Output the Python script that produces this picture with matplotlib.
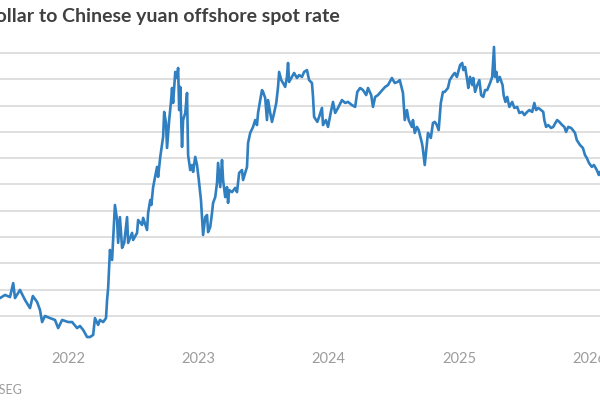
import matplotlib
matplotlib.use('Agg')
import matplotlib.pyplot as plt
import matplotlib.dates as mdates
import pandas as pd

# USD/CNH (approximate)
dates = [
    '2021-06-16', '2021-06-24', '2021-07-08', '2021-07-22', '2021-07-31', '2021-08-05',
    '2021-08-19', '2021-09-02', '2021-09-16', '2021-09-24', '2021-10-06', '2021-10-14',
    '2021-10-20', '2021-10-28', '2021-11-11', '2021-11-25', '2021-12-04', '2021-12-15',
    '2022-01-01', '2022-01-12', '2022-01-26', '2022-02-03', '2022-02-12', '2022-02-23',
    '2022-03-03', '2022-03-12', '2022-03-17', '2022-03-26', '2022-03-31', '2022-04-09',
    '2022-04-17', '2022-04-20', '2022-04-23', '2022-04-28', '2022-05-04', '2022-05-12',
    '2022-05-18', '2022-05-21', '2022-05-26', '2022-06-01', '2022-06-07', '2022-06-15',
    '2022-06-18', '2022-06-29', '2022-07-02', '2022-07-13', '2022-07-16', '2022-07-27',
    '2022-07-30', '2022-08-10', '2022-08-13', '2022-08-19', '2022-08-22', '2022-08-27',
    '2022-09-07', '2022-09-10', '2022-09-16', '2022-09-24', '2022-09-27', '2022-10-02',
    '2022-10-05', '2022-10-11', '2022-10-16', '2022-10-19', '2022-10-22', '2022-10-28',
    '2022-11-02', '2022-11-05', '2022-11-08', '2022-11-11', '2022-11-16', '2022-11-19',
    '2022-11-25', '2022-11-30', '2022-12-03', '2022-12-09', '2022-12-14', '2022-12-17',
    '2022-12-23', '2022-12-28', '2023-01-02', '2023-01-08', '2023-01-14', '2023-01-20',
    '2023-01-25', '2023-01-28', '2023-02-03', '2023-02-08', '2023-02-11', '2023-02-17',
    '2023-02-22', '2023-02-25', '2023-03-03', '2023-03-08', '2023-03-11', '2023-03-17',
    '2023-03-22', '2023-03-25', '2023-03-28', '2023-04-05', '2023-04-14', '2023-04-19',
    '2023-04-25', '2023-05-03', '2023-05-06', '2023-05-17', '2023-05-20', '2023-05-26',
    '2023-06-03', '2023-06-09', '2023-06-14', '2023-06-17', '2023-06-23', '2023-06-28',
    '2023-07-01', '2023-07-07', '2023-07-12', '2023-07-15', '2023-07-21', '2023-07-26',
    '2023-08-01', '2023-08-07', '2023-08-12', '2023-08-15', '2023-08-21', '2023-08-26',
    '2023-09-01', '2023-09-06', '2023-09-09', '2023-09-12', '2023-09-20', '2023-09-26',
    '2023-10-04', '2023-10-10', '2023-10-18', '2023-10-24', '2023-11-01', '2023-11-07',
    '2023-11-15', '2023-11-18', '2023-11-21', '2023-11-30', '2023-12-05', '2023-12-13',
    '2023-12-16', '2023-12-24', '2023-12-30', '2024-01-07', '2024-01-13', '2024-01-19',
    '2024-01-27', '2024-02-07', '2024-02-16', '2024-02-24', '2024-03-06', '2024-03-15',
    '2024-03-21', '2024-03-29', '2024-04-06', '2024-04-15', '2024-04-20', '2024-04-29',
    '2024-05-04', '2024-05-10', '2024-05-18', '2024-05-30', '2024-06-07', '2024-06-15',
    '2024-06-26', '2024-07-04', '2024-07-12', '2024-07-18', '2024-07-27', '2024-08-01',
    '2024-08-07', '2024-08-12', '2024-08-21', '2024-08-24', '2024-08-29', '2024-09-04',
    '2024-09-09', '2024-09-18', '2024-09-20', '2024-09-26', '2024-10-02', '2024-10-05',
    '2024-10-13', '2024-10-19', '2024-10-24', '2024-10-30', '2024-11-04', '2024-11-10',
    '2024-11-16', '2024-11-21', '2024-11-30', '2024-12-05', '2024-12-14', '2024-12-19',
    '2024-12-25', '2025-01-03', '2025-01-09', '2025-01-12', '2025-01-17', '2025-01-23',
    '2025-01-26', '2025-01-31', '2025-02-06', '2025-02-09', '2025-02-14', '2025-02-20',
    '2025-02-26', '2025-03-03', '2025-03-09', '2025-03-14', '2025-03-20', '2025-03-28',
    '2025-04-03', '2025-04-08', '2025-04-11', '2025-04-15', '2025-04-18', '2025-04-24',
    '2025-05-02', '2025-05-05', '2025-05-10', '2025-05-15', '2025-05-21', '2025-05-29',
    '2025-06-04', '2025-06-12', '2025-06-18', '2025-06-26', '2025-07-02', '2025-07-10',
    '2025-07-16', '2025-07-24', '2025-07-30', '2025-08-04', '2025-08-10', '2025-08-18',
    '2025-08-24', '2025-08-27', '2025-09-01', '2025-09-07', '2025-09-15', '2025-09-21',
    '2025-09-27', '2025-10-02', '2025-10-08', '2025-10-16', '2025-10-22', '2025-10-27',
    '2025-11-02', '2025-11-10', '2025-11-15', '2025-11-21', '2025-11-26', '2025-12-05',
    '2025-12-13', '2025-12-19', '2025-12-24', '2025-12-30', '2026-01-07', '2026-01-13',
    '2026-01-21', '2026-01-27', '2026-01-30', '2026-02-06',
]
rate = [
    6.470, 6.468, 6.480, 6.472, 6.525, 6.468,
    6.499, 6.461, 6.430, 6.476, 6.453, 6.423,
    6.377, 6.400, 6.392, 6.385, 6.354, 6.385,
    6.377, 6.377, 6.354, 6.362, 6.347, 6.320,
    6.320, 6.328, 6.392, 6.366, 6.385, 6.377,
    6.392, 6.461, 6.506, 6.651, 6.613, 6.822,
    6.765, 6.678, 6.776, 6.659, 6.678, 6.776,
    6.678, 6.716, 6.689, 6.716, 6.765, 6.746,
    6.773, 6.727, 6.792, 6.841, 6.822, 6.890,
    6.967, 6.929, 7.005, 7.081, 7.176, 7.134,
    7.039, 7.145, 7.214, 7.267, 7.210, 7.328,
    7.305, 7.343, 7.183, 7.271, 7.043, 7.145,
    7.172, 7.248, 7.012, 6.955, 6.974, 6.948,
    7.005, 6.974, 6.917, 6.841, 6.708, 6.776,
    6.784, 6.719, 6.738, 6.792, 6.830, 6.852,
    6.906, 6.982, 6.890, 6.993, 6.917, 6.852,
    6.890, 6.830, 6.879, 6.871, 6.887, 6.871,
    6.944, 6.955, 6.917, 6.967, 7.058, 7.096,
    7.119, 7.145, 7.126, 7.172, 7.221, 7.259,
    7.252, 7.229, 7.145, 7.221, 7.172, 7.138,
    7.172, 7.210, 7.271, 7.328, 7.297, 7.286,
    7.271, 7.309, 7.362, 7.290, 7.309, 7.324,
    7.305, 7.316, 7.309, 7.328, 7.335, 7.297,
    7.286, 7.233, 7.157, 7.138, 7.157, 7.191,
    7.126, 7.145, 7.119, 7.176, 7.214, 7.172,
    7.191, 7.221, 7.210, 7.214, 7.202, 7.195,
    7.252, 7.267, 7.259, 7.240, 7.267, 7.240,
    7.195, 7.233, 7.240, 7.259, 7.271, 7.278,
    7.305, 7.286, 7.290, 7.297, 7.248, 7.145,
    7.183, 7.145, 7.119, 7.145, 7.096, 7.119,
    7.107, 7.058, 7.043, 6.974, 7.058, 7.096,
    7.077, 7.134, 7.138, 7.126, 7.107, 7.210,
    7.252, 7.252, 7.267, 7.297, 7.316, 7.324,
    7.309, 7.354, 7.362, 7.335, 7.347, 7.297,
    7.267, 7.309, 7.278, 7.305, 7.252, 7.278,
    7.297, 7.240, 7.233, 7.259, 7.259, 7.286,
    7.309, 7.423, 7.309, 7.328, 7.290, 7.309,
    7.278, 7.240, 7.214, 7.233, 7.195, 7.214,
    7.191, 7.195, 7.172, 7.176, 7.164, 7.176,
    7.183, 7.176, 7.210, 7.183, 7.191, 7.183,
    7.176, 7.145, 7.119, 7.126, 7.115, 7.119,
    7.134, 7.145, 7.138, 7.126, 7.119, 7.100,
    7.119, 7.115, 7.107, 7.096, 7.069, 7.050,
    7.039, 7.012, 7.001, 6.982, 6.967, 6.974,
    6.955, 6.936, 6.948, 6.940,
]
year_ticks = ['2022', '2023', '2024', '2025', '2026']
grid_levels = [6.4, 6.5, 6.6, 6.7, 6.8, 6.9, 7.0, 7.1, 7.2, 7.3, 7.4]

title = 'U.S. dollar to Chinese yuan offshore spot rate'
source = 'Source: LSEG'

plt.rcParams['font.family'] = ['Lato', 'DejaVu Sans']

df = pd.DataFrame({'date': pd.to_datetime(dates), 'rate': rate})

fig = plt.figure(figsize=(6, 4), dpi=100)
# the reference is a crop: the plot area runs past both side edges
ax = fig.add_axes([0.0, 1 - 345 / 400, 1.0, (345 - 40) / 400])

ax.plot(df['date'], df['rate'], color='#2f7fc1', lw=1.9, solid_joinstyle='round', zorder=3)

ax.set_xlim(pd.Timestamp('2021-06-24'), pd.Timestamp('2026-01-30'))
ax.set_ylim(6.2897, 7.4494)

ax.set_yticks(grid_levels)
ax.yaxis.grid(True, color='#dcdcdc', lw=1.3)
ax.tick_params(axis='y', left=False, labelleft=False)

ax.set_xticks(pd.to_datetime([y + '-01-01' for y in year_ticks]))
ax.xaxis.set_major_formatter(mdates.DateFormatter('%Y'))
ax.tick_params(axis='x', length=0, pad=5, labelsize=10.5, labelcolor='#9c9c9c')

for s in ax.spines.values():
    s.set_visible(False)

fig.text(340 / 600, 1 - 22 / 400, title, ha='right', va='baseline',
         fontsize=14, fontweight='bold', color='#404040')
fig.text(22 / 600, 1 - 394 / 400, source, ha='right', va='baseline',
         fontsize=9, color='#9c9c9c')

fig.savefig('out.png', dpi=100)
